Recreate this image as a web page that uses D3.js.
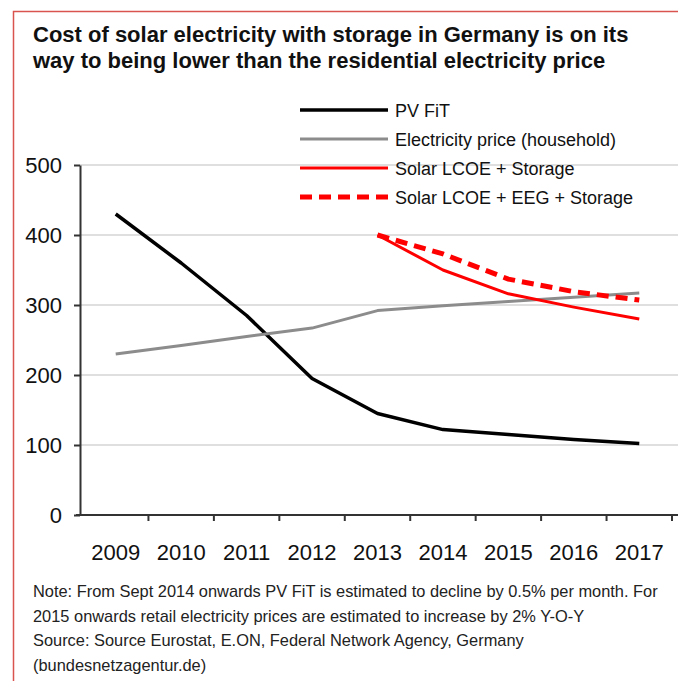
<!DOCTYPE html>
<html>
<head>
  <meta charset="utf-8">
  <title>Solar electricity with storage in Germany</title>
  <script src="https://d3js.org/d3.v7.min.js"></script>
  <style>
    html, body {
      margin: 0;
      padding: 0;
      background: #fff;
      overflow: hidden;
    }
    svg {
      display: block;
      font-family: "Liberation Sans", Arial, sans-serif;
    }
    .grid line {
      stroke: #d4d4d4;
      stroke-width: 1.5;
    }
    .axis path, .axis line {
      stroke: #333;
      stroke-width: 2;
    }
    .axis text {
      font-size: 22px;
      fill: #111;
    }
  </style>
</head>
<body>
  <svg width="678" height="681"></svg>
  <script>
    // Datos
    const years = ["2009", "2010", "2011", "2012", "2013", "2014", "2015", "2016", "2017"];
    const pvFit = [430, 360, 285, 195, 145, 122, 115, 108, 102];
    const electricityPrice = [230, 242, 255, 267, 292, 299, 305, 311, 317];
    const lcoeStorageYears = ["2013", "2014", "2015", "2016", "2017"];
    const lcoeStorage = [400, 350, 316, 297, 280];
    const lcoeEegStorage = [400, 373, 337, 319, 307];
    const yTicks = [0, 100, 200, 300, 400, 500];

    const titleLines = [
      "Cost of solar electricity with storage in Germany is on its",
      "way to being lower than the residential electricity price"
    ];
    const noteLines = [
      "Note: From Sept 2014 onwards PV FiT is estimated to decline by 0.5% per month. For",
      "2015 onwards retail electricity prices are estimated to increase by 2% Y-O-Y",
      "Source: Source Eurostat, E.ON, Federal Network Agency, Germany",
      "(bundesnetzagentur.de)"
    ];

    const series = [
      { name: "PV FiT", x: years, y: pvFit, color: "#000", width: 3.5, dash: null },
      { name: "Electricity price (household)", x: years, y: electricityPrice, color: "#8c8c8c", width: 3, dash: null },
      { name: "Solar LCOE + Storage", x: lcoeStorageYears, y: lcoeStorage, color: "#f00", width: 3, dash: null },
      { name: "Solar LCOE + EEG + Storage", x: lcoeStorageYears, y: lcoeEegStorage, color: "#f00", width: 5, dash: "12,7" }
    ];

    const svg = d3.select("svg");

    // Marco rojo
    svg.append("path")
      .attr("d", "M13.5,681 L13.5,11.5 L678,11.5")
      .attr("fill", "none")
      .attr("stroke", "#d9534f")
      .attr("stroke-width", 1.5);

    // Título
    svg.append("g").selectAll("text")
      .data(titleLines)
      .enter()
      .append("text")
      .attr("x", 33)
      .attr("y", (d, i) => 42 + i * 26)
      .attr("font-size", 22)
      .attr("font-weight", "bold")
      .attr("fill", "#111")
      .text(d => d);

    const margin = { left: 80, right: 672, top: 165, bottom: 515 };

    const x = d3.scaleBand()
      .domain(years)
      .range([margin.left + 3, margin.right]);

    const y = d3.scaleLinear()
      .domain([0, 500])
      .range([margin.bottom, margin.top]);

    // Líneas de cuadrícula
    svg.append("g")
      .attr("class", "grid")
      .selectAll("line")
      .data(yTicks.filter(d => d > 0))
      .enter()
      .append("line")
      .attr("x1", margin.left)
      .attr("x2", 678)
      .attr("y1", d => y(d))
      .attr("y2", d => y(d));

    // Eje Y
    svg.append("g")
      .attr("class", "axis")
      .attr("transform", `translate(${margin.left},0)`)
      .call(d3.axisLeft(y).tickValues(yTicks).tickSize(6).tickSizeOuter(0).tickPadding(12))
      .call(g => g.selectAll("text").attr("font-size", 22));

    // Eje X con marcas entre categorías
    const xAxis = svg.append("g")
      .attr("class", "axis")
      .attr("transform", `translate(0,${margin.bottom})`);
    xAxis.append("line")
      .attr("x1", margin.left - 4)
      .attr("x2", 678)
      .attr("y1", 0)
      .attr("y2", 0);
    xAxis.selectAll("line.tick")
      .data(years)
      .enter()
      .append("line")
      .attr("class", "tick")
      .attr("x1", d => x(d) + x.bandwidth())
      .attr("x2", d => x(d) + x.bandwidth())
      .attr("y1", 0)
      .attr("y2", 6);
    xAxis.selectAll("text")
      .data(years)
      .enter()
      .append("text")
      .attr("x", d => x(d) + x.bandwidth() / 2)
      .attr("y", 45)
      .attr("text-anchor", "middle")
      .text(d => d);

    // Series
    const line = d3.line()
      .x(d => x(d[0]) + x.bandwidth() / 2)
      .y(d => y(d[1]));

    svg.append("g").selectAll("path")
      .data(series)
      .enter()
      .append("path")
      .attr("d", s => line(s.x.map((yr, i) => [yr, s.y[i]])))
      .attr("fill", "none")
      .attr("stroke", s => s.color)
      .attr("stroke-width", s => s.width)
      .attr("stroke-dasharray", s => s.dash)
      .attr("stroke-linejoin", "round");

    // Leyenda
    const legend = svg.append("g")
      .attr("transform", "translate(300,110)");
    const legendRows = legend.selectAll("g")
      .data(series)
      .enter()
      .append("g")
      .attr("transform", (d, i) => `translate(0,${i * 29})`);
    legendRows.append("line")
      .attr("x1", 0)
      .attr("x2", 88)
      .attr("stroke", d => d.color)
      .attr("stroke-width", d => d.width)
      .attr("stroke-dasharray", d => d.dash);
    legendRows.append("text")
      .attr("x", 95)
      .attr("y", 6.5)
      .attr("font-size", 18)
      .attr("fill", "#111")
      .text(d => d.name);

    // Notas
    svg.append("g").selectAll("text")
      .data(noteLines)
      .enter()
      .append("text")
      .attr("x", 33)
      .attr("y", (d, i) => 597 + i * 24.5)
      .attr("font-size", 16.4)
      .attr("fill", "#222")
      .text(d => d);
  </script>
</body>
</html>
